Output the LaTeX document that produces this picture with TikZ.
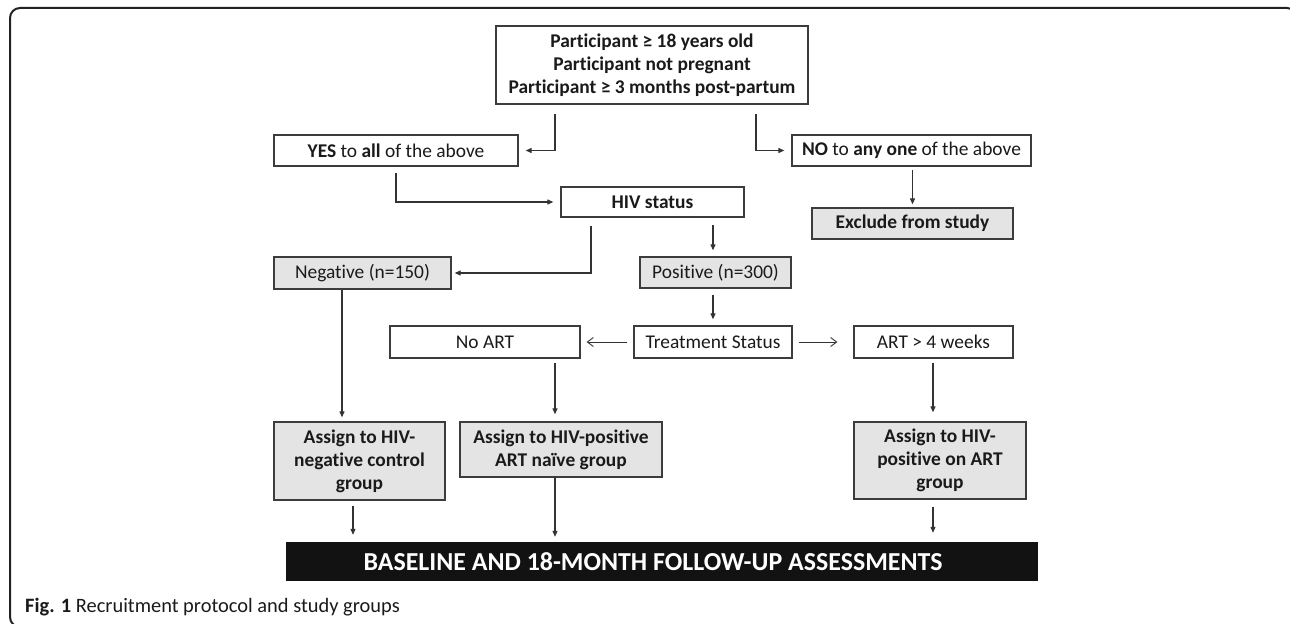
\documentclass[tikz,border=0pt]{standalone}
\usepackage{fontspec}
\setmainfont{Carlito}[Ligatures=NoCommon]
\usetikzlibrary{arrows.meta,calc}
\definecolor{boxc}{HTML}{3C3C3C}
\definecolor{linec}{HTML}{333333}
\definecolor{txt}{HTML}{1A1A1A}
\definecolor{boxfill}{HTML}{E4E4E4}
\definecolor{framec}{HTML}{222222}
\tikzset{
  box/.style={draw=boxc, line width=1.3bp, fill=white, inner sep=0pt, align=center, text=txt, font=\fontsize{19.5}{23}\selectfont},
  gbox/.style={box, fill=boxfill},
  bbox/.style={font=\bfseries\fontsize{19.5}{23}\selectfont},
  arr/.style={draw=linec, line width=1.1bp, -{Triangle[length=6bp,width=5bp]}},
  oarr/.style={draw=linec, line width=0.9bp, -{Straight Barb[length=6bp,width=9bp]}},
}
\begin{document}
\begin{tikzpicture}[x=1bp,y=-1bp]
\useasboundingbox (0,0) rectangle (1290,624);
\begin{scope}
\clip (0,0) rectangle (1290,624);
\draw[line width=2bp, draw=framec, rounded corners=10bp] (10,8) rectangle (1297,627);
\end{scope}

\node[box, bbox, minimum width=312bp, minimum height=78bp] (top) at (652,65)
  {Participant ≥ 18 years old\\Participant not pregnant\\Participant ≥ 3 months post-partum};
\node[box, minimum width=244bp, minimum height=31bp] (yes) at (396,150.5) {\textbf{YES} to \textbf{all} of the above};
\node[box, minimum width=239bp, minimum height=31bp] (no) at (911.5,150.5) {\textbf{NO} to \textbf{any one} of the above};
\node[box, bbox, minimum width=183bp, minimum height=30bp] (hiv) at (652.5,202) {HIV status};
\node[gbox, bbox, minimum width=201bp, minimum height=31bp] (excl) at (912.5,223.5) {Exclude from study};
\node[gbox, minimum width=177bp, minimum height=32bp] (neg) at (362.5,273) {Negative (n=150)};
\node[gbox, minimum width=151bp, minimum height=31bp] (pos) at (715.5,272.5) {Positive (n=300)};
\node[box, minimum width=158bp, minimum height=32bp] (treat) at (713,342) {Treatment Status};
\node[box, minimum width=190bp, minimum height=32bp] (noart) at (485,342) {No ART};
\node[box, minimum width=159bp, minimum height=32bp] (art4) at (933.5,342) {ART > 4 weeks};
\node[gbox, bbox, minimum width=171bp, minimum height=78bp] (aneg) at (359.5,461) {Assign to HIV-\\negative control\\group};
\node[gbox, bbox, minimum width=202bp, minimum height=55bp] (anaive) at (561,449.5) {Assign to HIV-positive\\ART naïve group};
\node[gbox, bbox, minimum width=172bp, minimum height=77bp] (aart) at (940,460.5) {Assign to HIV-\\positive on ART\\group};
\node[fill=black!93, inner sep=0pt, minimum width=752bp, minimum height=39bp, text=white, font=\bfseries\fontsize{26}{30}\selectfont] (bar) at (662,561.5) {BASELINE AND 18-MONTH FOLLOW-UP ASSESSMENTS\hspace*{18bp}};
\node[anchor=base west, inner sep=0pt, text=txt, font=\fontsize{20.5}{24}\selectfont] (cap) at (25,612) {\textbf{Fig. 1} Recruitment protocol and study groups};

\coordinate (xa) at (555,0);
\coordinate (xb) at (933,0);
\coordinate (xc) at (342,0);
\coordinate (xd) at (353,0);
\coordinate (xe) at (713,0);

\draw[arr, shorten <=9bp, shorten >=7bp] ([xshift=-97bp]top.south) |- (yes.east);
\draw[arr, shorten <=9bp, shorten >=7bp] ([xshift=104bp]top.south) |- (no.west);
\draw[arr, shorten <=6bp, shorten >=7bp] (yes.south) |- (hiv.west);
\draw[arr, shorten <=3bp, shorten >=3bp] (no.south -| excl.north) -- (excl.north);
\draw[arr, shorten <=8bp, shorten >=3bp] ([xshift=-61.5bp]hiv.south) |- (neg.east);
\draw[arr, shorten <=7bp, shorten >=6bp] (hiv.south -| xe) -- (pos.north -| xe);
\draw[arr, shorten <=6bp, shorten >=6bp] (pos.south -| xe) -- (treat.north -| xe);
\draw[oarr, shorten <=6bp, shorten >=6bp] (treat.west) -- (noart.east);
\draw[oarr, shorten <=6bp, shorten >=16bp] (treat.east) -- (art4.west);
\draw[arr, shorten <=4bp, shorten >=7bp] (noart.south -| xa) -- (anaive.north -| xa);
\draw[arr, shorten <=4bp, shorten >=9bp] (art4.south -| xb) -- (aart.north -| xb);
\draw[arr, shorten >=4bp] (neg.south -| xc) -- (aneg.north -| xc);
\draw[arr, shorten <=5bp, shorten >=7bp] (aneg.south -| xd) -- (bar.north -| xd);
\draw[arr, shorten >=5bp] (anaive.south -| xa) -- (bar.north -| xa);
\draw[arr, shorten <=7bp, shorten >=9bp] (aart.south -| xb) -- (bar.north -| xb);
\end{tikzpicture}
\end{document}
